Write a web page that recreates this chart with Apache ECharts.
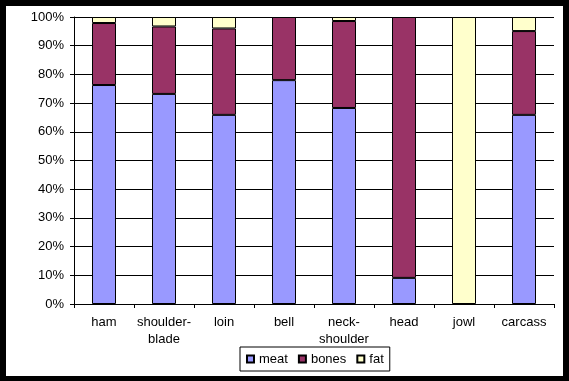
<!DOCTYPE html>
<html>
<head>
<meta charset="utf-8">
<script src="https://cdn.jsdelivr.net/npm/echarts@6/dist/echarts.min.js"></script>
<style>
html,body{margin:0;padding:0;background:#000;}
#chart{width:569px;height:381px;}
</style>
</head>
<body>
<div id="chart"></div>
<script>
const categories = ['ham', 'shoulder-\nblade', 'loin', 'bell', 'neck-\nshoulder', 'head', 'jowl', 'carcass'];
const meat  = [76.3, 73.2, 65.9, 78.0, 68.3, 9.1, 0, 65.9];
const bones = [21.6, 23.5, 30.1, 22.0, 30.3, 90.9, 0, 29.2];
const fat   = [2.1, 3.3, 4.0, 0, 1.4, 0, 100, 4.9];
const yTicks = [0, 10, 20, 30, 40, 50, 60, 70, 80, 90, 100];

const font = 'Liberation Sans, Arial, sans-serif';
const chart = echarts.init(document.getElementById('chart'), null, {renderer: 'canvas'});

function barSeries(name, data, color) {
  return {
    name: name,
    type: 'bar',
    stack: 'total',
    data: data.map(v => (v === 0 ? '-' : v)),
    barWidth: 24,
    itemStyle: {color: color, borderColor: '#000', borderWidth: 1},
    emphasis: {disabled: true},
    animation: false
  };
}

chart.setOption({
  animation: false,
  backgroundColor: '#000',
  graphic: [{
    type: 'rect',
    z: -10,
    shape: {x: 6, y: 6, width: 557, height: 370},
    style: {fill: '#fff'}
  }],
  grid: {left: 74, right: 15, top: 17, bottom: 77},
  legend: {
    left: 240,
    top: 347,
    padding: [5, 6],
    borderColor: '#000',
    borderWidth: 1,
    backgroundColor: '#fff',
    icon: 'rect',
    itemWidth: 7,
    itemHeight: 7,
    itemGap: 10,
    textStyle: {fontFamily: font, fontSize: 13, color: '#000', lineHeight: 14},
    data: ['meat', 'bones', 'fat']
  },
  xAxis: {
    type: 'category',
    data: categories,
    boundaryGap: true,
    axisLine: {lineStyle: {color: '#000', width: 1}},
    axisTick: {show: true, length: 4, lineStyle: {color: '#000'}},
    axisLabel: {fontFamily: font, fontSize: 13, color: '#000', margin: 10, lineHeight: 17, interval: 0}
  },
  yAxis: {
    type: 'value',
    min: yTicks[0],
    max: yTicks[yTicks.length - 1],
    interval: 10,
    axisLine: {show: true, lineStyle: {color: '#000', width: 1}},
    axisTick: {show: true, length: 4, lineStyle: {color: '#000'}},
    splitLine: {show: true, lineStyle: {color: '#000', width: 1}},
    axisLabel: {fontFamily: font, fontSize: 13, color: '#000', margin: 10, formatter: '{value}%'}
  },
  series: [
    barSeries('meat', meat, '#9999FF'),
    barSeries('bones', bones, '#993366'),
    barSeries('fat', fat, '#FFFFCC')
  ]
});
</script>
</body>
</html>
